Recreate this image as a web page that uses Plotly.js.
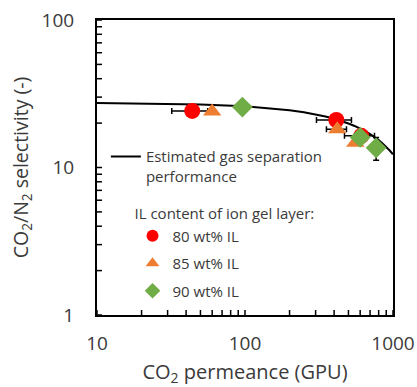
<!DOCTYPE html>
<html>
<head>
<meta charset="utf-8">
<script src="https://cdn.plot.ly/plotly-3.0.1.min.js"></script>
<style>html,body{margin:0;padding:0;background:#fff;}#chart{width:417px;height:387px;}</style>
</head>
<body>
<div id="chart"></div>
<script>
// Estimated gas separation performance curve
const curveX = [10, 20, 50, 100, 150, 200, 250, 300, 350, 400, 450, 500, 550, 600, 650, 700, 750, 800, 850, 900, 950, 1000];
const curveY = [27.35, 27.2, 26.74, 25.98, 25.22, 24.46, 23.70, 22.93, 22.17, 21.41, 20.65, 19.89, 19.13, 18.37, 17.61, 16.85, 16.09, 15.33, 14.56, 13.80, 13.04, 12.28];

// 80 wt% IL
const il80X = [44, 414, 610];
const il80Y = [24.2, 21.0, 16.4];
const il80ErrX = [12, 110, 140];

// 85 wt% IL
const il85X = [60, 420, 556];
const il85Y = [24.0, 18.2, 14.7];
const il85ErrX = [0, 65, 0];

// 90 wt% IL
const il90X = [96, 600, 769];
const il90Y = [25.7, 16.0, 13.6];
const il90ErrY = [0, 0, 2.4];

// Axes
const xRange = [10, 1000];
const yRange = [1, 100];
const xTickVals = [10, 100, 1000];
const yTickVals = [1, 10, 100];
const xMinorVals = [20, 30, 40, 50, 60, 70, 80, 90, 200, 300, 400, 500, 600, 700, 800, 900];
const yMinorVals = [2, 3, 4, 5, 6, 7, 8, 9, 20, 30, 40, 50, 60, 70, 80, 90];

const FONT = 'Open Sans, Noto Sans, sans-serif';
const TXT = '#3a3a3a';

const W = 417, H = 387, M = {l: 97, r: 24, t: 20, b: 72};
const plotW = W - M.l - M.r, plotH = H - M.t - M.b;
const TICK_PX = 5;

// Inward tick marks drawn as one-sided error bars from the axis edges.
const xTickAll = xTickVals.concat(xMinorVals);
const yTickAll = yTickVals.concat(yMinorVals);
const decadesY = Math.log10(yRange[1] / yRange[0]);
const decadesX = Math.log10(xRange[1] / xRange[0]);
const upLen = yRange[0] * (Math.pow(10, TICK_PX * decadesY / plotH) - 1);
const rightLen = xRange[0] * (Math.pow(10, TICK_PX * decadesX / plotW) - 1);
const hiddenMarker = {size: 1, color: 'rgba(0,0,0,0)'};

const traces = [
  {x: xTickAll, y: xTickAll.map(() => yRange[0]), mode: 'markers', showlegend: false, hoverinfo: 'skip',
   cliponaxis: false, marker: hiddenMarker,
   error_y: {type: 'data', symmetric: false, array: xTickAll.map(() => upLen), arrayminus: xTickAll.map(() => 0),
             visible: true, color: '#000000', thickness: 1.5, width: 0}},
  {x: yTickAll.map(() => xRange[0]), y: yTickAll, mode: 'markers', showlegend: false, hoverinfo: 'skip',
   cliponaxis: false, marker: hiddenMarker,
   error_x: {type: 'data', symmetric: false, array: yTickAll.map(() => rightLen), arrayminus: yTickAll.map(() => 0),
             visible: true, color: '#000000', thickness: 1.5, width: 0}},
  {x: curveX, y: curveY, mode: 'lines', name: 'Estimated gas separation<br>performance',
   line: {color: '#000000', width: 2}, legend: 'legend', hoverinfo: 'skip'},
  {x: il80X, y: il80Y, mode: 'markers', name: '80 wt% IL', legend: 'legend2', legendgroup: 'g80',
   marker: {symbol: 'circle', size: 16, color: '#FF0000'},
   error_x: {type: 'data', array: il80ErrX, visible: true, color: '#000000', thickness: 1.5, width: 3}},
  {x: il85X, y: il85Y, mode: 'markers', name: '85 wt% IL', legend: 'legend2', legendgroup: 'g85',
   marker: {symbol: 'triangle-up', size: 16, color: '#ED7D31'},
   error_x: {type: 'data', array: il85ErrX, visible: true, color: '#000000', thickness: 1.5, width: 3}},
  {x: il90X, y: il90Y, mode: 'markers', name: '90 wt% IL', legend: 'legend2', legendgroup: 'g90',
   marker: {symbol: 'diamond', size: 16, color: '#70AD47'},
   error_y: {type: 'data', array: il90ErrY, visible: true, color: '#000000', thickness: 1.5, width: 3}}
];

const mainAxis = {
  type: 'log', showgrid: false, zeroline: false,
  showline: true, linecolor: '#000000', linewidth: 2, mirror: true, ticks: '',
  tickfont: {family: FONT, size: 19, color: TXT}, tickmode: 'array'
};

const layout = {
  width: W, height: H,
  margin: M,
  paper_bgcolor: '#ffffff', plot_bgcolor: '#ffffff',
  font: {family: FONT, color: TXT},
  showlegend: true,
  xaxis: Object.assign({}, mainAxis, {
    ticklabelstandoff: 10,
    range: xRange.map(Math.log10), tickvals: xTickVals, ticktext: xTickVals.map(String),
    title: {text: 'CO<sub>2</sub> permeance (GPU)', font: {family: FONT, size: 20, color: TXT}, standoff: 20}
  }),
  yaxis: Object.assign({}, mainAxis, {
    ticklabelstandoff: 17,
    range: yRange.map(Math.log10), tickvals: yTickVals, ticktext: yTickVals.map(String),
    title: {text: 'CO<sub>2</sub>/N<sub>2</sub> selectivity (-)', font: {family: FONT, size: 19.5, color: TXT}, standoff: 8}
  }),
  legend: {
    x: 0.03, y: 0.504, xanchor: 'left', yanchor: 'middle', valign: 'top',
    bgcolor: 'rgba(0,0,0,0)', borderwidth: 0,
    font: {family: FONT, size: 15, color: TXT}
  },
  legend2: {
    x: 0.12, y: 0.39, xanchor: 'left', yanchor: 'top',
    bgcolor: 'rgba(0,0,0,0)', borderwidth: 0, itemsizing: 'constant',
    traceorder: 'grouped', tracegroupgap: 5,
    title: {text: 'IL content of ion gel layer:', font: {family: FONT, size: 15, color: TXT}},
    font: {family: FONT, size: 15, color: TXT}
  }
};

Plotly.newPlot('chart', traces, layout, {staticPlot: true, displayModeBar: false});
</script>
</body>
</html>
